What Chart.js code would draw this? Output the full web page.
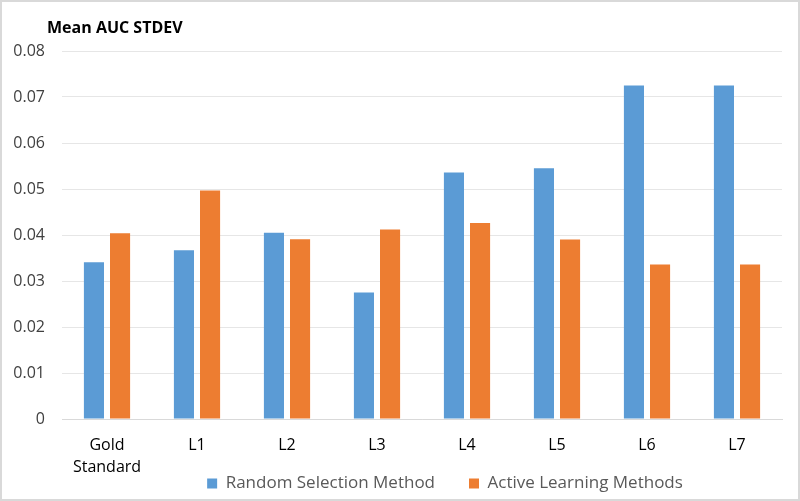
<!DOCTYPE html>
<html>
<head>
<meta charset="utf-8">
<script src="https://cdn.jsdelivr.net/npm/chart.js@4.4.0/dist/chart.umd.min.js"></script>
<style>
  html, body { margin: 0; padding: 0; background: #fff; }
  #wrap { width: 800px; height: 501px; box-sizing: border-box; border: 2px solid #d9d9d9; }
</style>
</head>
<body>
<div id="wrap"><canvas id="grafico"></canvas></div>
<script>
// dados
const categorias = [['Gold', 'Standard'], 'L1', 'L2', 'L3', 'L4', 'L5', 'L6', 'L7'];
const aleatorio = [0.0341, 0.0367, 0.0405, 0.0275, 0.0536, 0.0545, 0.0725, 0.0725];
const ativo = [0.0404, 0.0497, 0.0391, 0.0412, 0.0426, 0.0390, 0.0336, 0.0336];
const nomesSeries = ['Random Selection Method', 'Active Learning Methods'];
const titulo = 'Mean AUC STDEV';

const fonte = '"Open Sans", "Noto Sans", sans-serif';

// título desenhado à mão, à esquerda do eixo
const tituloPlugin = {
  id: 'tituloPlugin',
  afterDraw(chart) {
    const ctx = chart.ctx;
    ctx.save();
    ctx.font = 'bold 16px ' + fonte;
    ctx.fillStyle = '#000';
    ctx.textBaseline = 'middle';
    ctx.fillText(titulo, 45, 26);
    ctx.restore();
  }
};

// legenda colada aos rótulos e deslocada para a direita, como no original
const legendaPlugin = {
  id: 'legendaPlugin',
  afterInit(chart) {
    const fitOrig = chart.legend.fit;
    chart.legend.fit = function () {
      fitOrig.call(this);
      this.height = 20;
    };
  },
  afterLayout(chart) {
    const lg = chart.legend;
    lg.top = chart.chartArea.bottom + 22;
    lg.bottom = lg.top + 60;
    lg.left += 51;
    lg.right += 51;
  }
};

const ctx = document.getElementById('grafico').getContext('2d');
new Chart(ctx, {
  type: 'bar',
  data: {
    labels: categorias,
    datasets: [
      { label: nomesSeries[0], data: aleatorio, backgroundColor: '#5b9bd5' },
      { label: nomesSeries[1], data: ativo, backgroundColor: '#ed7d31' }
    ]
  },
  options: {
    responsive: true,
    maintainAspectRatio: false,
    animation: false,
    categoryPercentage: 0.58,
    barPercentage: 0.77,
    layout: { padding: { top: 49, left: 4, right: 16, bottom: 0 } },
    scales: {
      x: {
        grid: { display: false, drawTicks: false },
        border: { color: '#d9d9d9' },
        ticks: { color: '#000', font: { family: fonte, size: 16, lineHeight: 1.35 }, padding: 16 },
        afterFit: s => { s.height = 60; }
      },
      y: {
        min: 0,
        max: 0.08,
        grid: { color: '#e6e6e6', drawTicks: false },
        border: { display: false },
        ticks: {
          stepSize: 0.01,
          color: '#404040',
          padding: 17,
          font: { family: fonte, size: 16 },
          callback: v => String(+v.toFixed(2))
        },
        afterFit: s => { s.width = 56; }
      }
    },
    plugins: {
      legend: {
        position: 'bottom',
        labels: {
          boxWidth: 10,
          boxHeight: 10,
          padding: 34,
          color: '#595959',
          font: { family: fonte, size: 17 }
        }
      },
      tooltip: { enabled: false }
    }
  },
  plugins: [tituloPlugin, legendaPlugin]
});
</script>
</body>
</html>
